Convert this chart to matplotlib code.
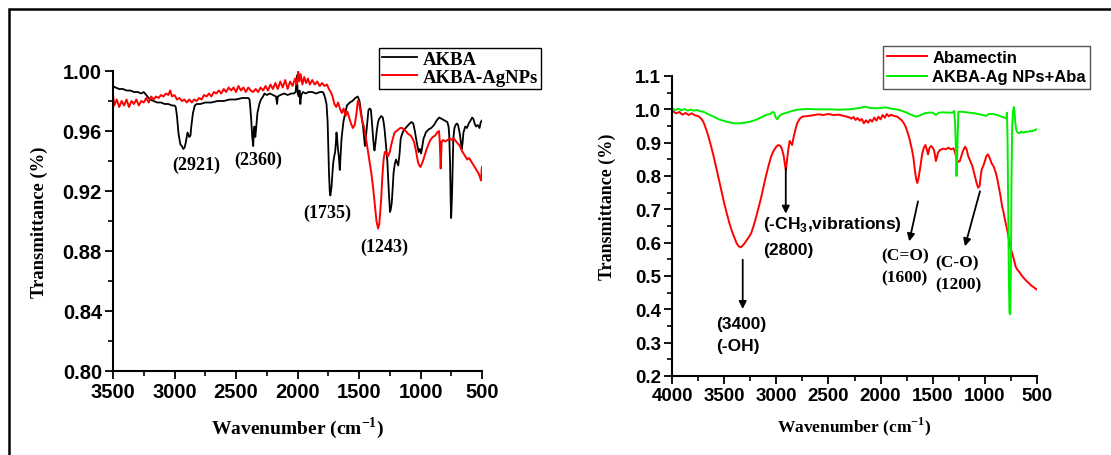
"""
FTIR spectra: AKBA / AKBA-AgNPs (left) and Abamectin / AKBA-Ag NPs+Aba (right)
"""

import matplotlib
matplotlib.use("Agg")
import matplotlib.pyplot as plt
import numpy as np
from matplotlib.lines import Line2D
from matplotlib.ticker import MultipleLocator, FormatStrFormatter

plt.rcParams['mathtext.fontset'] = 'custom'
plt.rcParams['mathtext.rm'] = 'Liberation Serif:bold'
plt.rcParams['mathtext.bf'] = 'Liberation Serif:bold'
plt.rcParams['mathtext.sf'] = 'Liberation Sans:bold'

SERIF = 'Liberation Serif'
SANS = 'Liberation Sans'

# ---- left panel data (wavenumber, transmittance) ----
akba = np.array([
    (3500, 0.990), (3480, 0.989), (3450, 0.988), (3420, 0.988), (3390, 0.987), (3360, 0.987),
    (3330, 0.986), (3300, 0.986), (3270, 0.985), (3250, 0.986), (3220, 0.983), (3200, 0.981),
    (3170, 0.980), (3140, 0.979), (3110, 0.979), (3080, 0.978), (3050, 0.978), (3020, 0.977),
    (3000, 0.977), (2990, 0.976), (2980, 0.970), (2967, 0.958), (2952, 0.951), (2940, 0.950),
    (2929, 0.948), (2918, 0.949), (2909, 0.952), (2894, 0.959), (2880, 0.956), (2870, 0.957),
    (2865, 0.962), (2850, 0.972), (2835, 0.977), (2820, 0.978), (2790, 0.978), (2750, 0.979),
    (2700, 0.979), (2650, 0.980), (2600, 0.980), (2550, 0.981), (2500, 0.981), (2450, 0.982),
    (2420, 0.982), (2399, 0.982), (2390, 0.981), (2384, 0.976), (2375, 0.966), (2368, 0.956),
    (2360, 0.950), (2355, 0.960), (2350, 0.963), (2343, 0.956), (2336, 0.962), (2326, 0.972),
    (2310, 0.978), (2297, 0.981), (2280, 0.983), (2268, 0.985), (2250, 0.984), (2224, 0.985),
    (2200, 0.984), (2175, 0.983), (2166, 0.978), (2160, 0.983), (2140, 0.984), (2108, 0.985),
    (2080, 0.984), (2050, 0.985), (2030, 0.985), (2015, 0.986), (2005, 0.997), (1998, 0.985),
    (1990, 0.983), (1983, 0.987), (1977, 0.978), (1970, 0.984), (1955, 0.986), (1933, 0.985),
    (1910, 0.986), (1880, 0.986), (1850, 0.985), (1816, 0.986), (1795, 0.986), (1787, 0.985),
    (1775, 0.982), (1764, 0.978), (1755, 0.966), (1750, 0.950), (1744, 0.932), (1738, 0.920),
    (1733, 0.917), (1728, 0.920), (1723, 0.923), (1716, 0.932), (1709, 0.939), (1702, 0.943),
    (1694, 0.946), (1688, 0.952), (1683, 0.959), (1677, 0.954), (1671, 0.948), (1663, 0.942),
    (1656, 0.934), (1649, 0.944), (1642, 0.955), (1634, 0.961), (1627, 0.966), (1612, 0.972),
    (1598, 0.977), (1575, 0.979), (1554, 0.980), (1530, 0.982), (1510, 0.983), (1496, 0.980),
    (1482, 0.972), (1467, 0.963), (1458, 0.955), (1452, 0.950), (1445, 0.955), (1438, 0.961),
    (1430, 0.968), (1423, 0.974), (1412, 0.975), (1403, 0.974), (1394, 0.965), (1385, 0.955),
    (1378, 0.949), (1374, 0.947), (1366, 0.952), (1356, 0.960), (1345, 0.966), (1336, 0.968),
    (1320, 0.970), (1307, 0.969), (1300, 0.966), (1292, 0.961), (1280, 0.950), (1269, 0.939),
    (1258, 0.920), (1248, 0.906), (1241, 0.908), (1234, 0.912), (1226, 0.922), (1219, 0.932),
    (1209, 0.938), (1199, 0.941), (1190, 0.939), (1181, 0.937), (1170, 0.945), (1161, 0.955),
    (1145, 0.959), (1132, 0.961), (1110, 0.963), (1088, 0.965), (1072, 0.966), (1059, 0.965),
    (1046, 0.960), (1036, 0.955), (1025, 0.950), (1015, 0.946), (1005, 0.948), (995, 0.945),
    (985, 0.950), (975, 0.955), (965, 0.957), (957, 0.959), (935, 0.961), (913, 0.962),
    (890, 0.964), (869, 0.967), (848, 0.969), (826, 0.968), (805, 0.967), (782, 0.966),
    (772, 0.963), (767, 0.958), (760, 0.940), (755, 0.915), (751, 0.902), (747, 0.910),
    (744, 0.917), (740, 0.930), (733, 0.955), (724, 0.962), (715, 0.964), (705, 0.965),
    (695, 0.964), (680, 0.958), (665, 0.948), (658, 0.952), (651, 0.959), (636, 0.963),
    (622, 0.962), (608, 0.965), (593, 0.967), (580, 0.969), (570, 0.968), (560, 0.965),
    (549, 0.963), (535, 0.964), (520, 0.962), (510, 0.966), (500, 0.967),
])

akba_ag = np.array([
    (3500, 0.984), (3490, 0.977), (3470, 0.981), (3450, 0.976), (3430, 0.980), (3410, 0.977),
    (3390, 0.981), (3370, 0.976), (3350, 0.980), (3330, 0.978), (3310, 0.981), (3290, 0.977),
    (3270, 0.980), (3250, 0.979), (3230, 0.982), (3210, 0.979), (3190, 0.983), (3170, 0.981),
    (3150, 0.983), (3130, 0.982), (3110, 0.984), (3090, 0.983), (3070, 0.985), (3050, 0.984),
    (3035, 0.987), (3020, 0.983), (3000, 0.984), (2980, 0.981), (2960, 0.982), (2940, 0.980),
    (2920, 0.981), (2900, 0.979), (2880, 0.981), (2860, 0.979), (2840, 0.981), (2820, 0.980),
    (2800, 0.982), (2780, 0.981), (2760, 0.984), (2740, 0.983), (2720, 0.985), (2700, 0.983),
    (2680, 0.986), (2660, 0.985), (2640, 0.987), (2620, 0.985), (2600, 0.988), (2580, 0.986),
    (2560, 0.989), (2540, 0.987), (2520, 0.989), (2500, 0.986), (2480, 0.990), (2460, 0.987),
    (2440, 0.989), (2420, 0.986), (2400, 0.989), (2380, 0.987), (2360, 0.986), (2340, 0.988),
    (2320, 0.986), (2300, 0.989), (2280, 0.987), (2260, 0.990), (2240, 0.987), (2220, 0.991),
    (2200, 0.988), (2180, 0.992), (2160, 0.988), (2140, 0.993), (2120, 0.989), (2100, 0.994),
    (2080, 0.988), (2060, 0.993), (2040, 0.990), (2020, 0.995), (2005, 0.991), (1995, 1.000),
    (1985, 0.993), (1975, 0.998), (1960, 0.991), (1945, 0.996), (1930, 0.992), (1915, 0.995),
    (1900, 0.991), (1880, 0.994), (1860, 0.991), (1840, 0.993), (1820, 0.990), (1800, 0.992),
    (1780, 0.990), (1760, 0.991), (1745, 0.988), (1730, 0.986), (1715, 0.983), (1700, 0.978),
    (1685, 0.976), (1670, 0.979), (1655, 0.975), (1640, 0.972), (1625, 0.975), (1610, 0.970),
    (1595, 0.973), (1580, 0.969), (1565, 0.965), (1550, 0.962), (1535, 0.964), (1520, 0.972),
    (1510, 0.980), (1500, 0.979), (1490, 0.974), (1475, 0.967), (1460, 0.963), (1445, 0.956),
    (1430, 0.948), (1415, 0.940), (1400, 0.932), (1385, 0.922), (1370, 0.910), (1358, 0.900),
    (1345, 0.895), (1335, 0.898), (1320, 0.914), (1310, 0.930), (1300, 0.941), (1290, 0.946),
    (1280, 0.946), (1265, 0.943), (1250, 0.946), (1240, 0.950), (1225, 0.955), (1210, 0.959),
    (1195, 0.960), (1180, 0.961), (1165, 0.962), (1150, 0.962), (1135, 0.961), (1120, 0.960),
    (1100, 0.958), (1080, 0.957), (1065, 0.955), (1050, 0.952), (1035, 0.946), (1020, 0.939),
    (1010, 0.937), (1000, 0.936), (990, 0.938), (980, 0.940), (965, 0.944), (950, 0.948),
    (935, 0.951), (920, 0.954), (900, 0.956), (880, 0.957), (865, 0.959), (850, 0.960),
    (845, 0.955), (840, 0.945), (836, 0.935), (832, 0.945), (828, 0.953), (815, 0.954),
    (800, 0.953), (780, 0.954), (760, 0.955), (745, 0.954), (730, 0.955), (720, 0.954),
    (700, 0.952), (680, 0.950), (665, 0.947), (650, 0.945), (635, 0.943), (620, 0.941),
    (605, 0.942), (590, 0.940), (575, 0.938), (560, 0.936), (545, 0.934), (530, 0.932),
    (520, 0.930), (512, 0.928), (507, 0.927), (503, 0.934), (500, 0.936),
])

# ---- right panel data ----
abamectin = np.array([
    (4000, 0.996), (3960, 0.988), (3930, 0.992), (3900, 0.984), (3870, 0.989), (3840, 0.983),
    (3810, 0.988), (3780, 0.982), (3750, 0.980), (3720, 0.972), (3700, 0.963), (3675, 0.942),
    (3650, 0.918), (3625, 0.889), (3600, 0.858), (3575, 0.824), (3550, 0.789), (3525, 0.754),
    (3500, 0.719), (3475, 0.688), (3450, 0.659), (3425, 0.634), (3400, 0.614), (3380, 0.598),
    (3360, 0.589), (3340, 0.586), (3320, 0.592), (3300, 0.600), (3280, 0.609), (3260, 0.618),
    (3240, 0.629), (3220, 0.648), (3200, 0.669), (3175, 0.699), (3150, 0.729), (3125, 0.764),
    (3100, 0.799), (3075, 0.830), (3050, 0.858), (3025, 0.876), (3000, 0.888), (2980, 0.893),
    (2960, 0.890), (2945, 0.880), (2930, 0.862), (2915, 0.830), (2908, 0.818), (2898, 0.845),
    (2885, 0.880), (2872, 0.905), (2860, 0.900), (2848, 0.893), (2835, 0.915), (2820, 0.935),
    (2800, 0.958), (2775, 0.972), (2750, 0.978), (2700, 0.980), (2650, 0.982), (2600, 0.985),
    (2550, 0.983), (2500, 0.986), (2450, 0.983), (2400, 0.984), (2350, 0.980), (2300, 0.976),
    (2280, 0.972), (2260, 0.977), (2240, 0.968), (2220, 0.974), (2200, 0.966), (2180, 0.971),
    (2160, 0.958), (2140, 0.967), (2120, 0.960), (2100, 0.969), (2080, 0.963), (2060, 0.975),
    (2040, 0.966), (2020, 0.978), (2000, 0.970), (1980, 0.983), (1960, 0.975), (1940, 0.986),
    (1920, 0.979), (1900, 0.984), (1870, 0.980), (1840, 0.978), (1800, 0.968), (1780, 0.960),
    (1760, 0.948), (1740, 0.930), (1720, 0.908), (1700, 0.880), (1685, 0.855), (1670, 0.815),
    (1658, 0.790), (1648, 0.779), (1638, 0.790), (1625, 0.815), (1610, 0.848), (1600, 0.868),
    (1585, 0.885), (1570, 0.893), (1555, 0.878), (1545, 0.865), (1530, 0.885), (1515, 0.890),
    (1500, 0.885), (1485, 0.875), (1470, 0.845), (1460, 0.855), (1450, 0.870), (1430, 0.878),
    (1400, 0.882), (1375, 0.880), (1350, 0.885), (1325, 0.880), (1300, 0.883), (1285, 0.870),
    (1270, 0.850), (1255, 0.842), (1240, 0.845), (1225, 0.860), (1210, 0.875), (1190, 0.888),
    (1175, 0.880), (1160, 0.860), (1140, 0.845), (1120, 0.830), (1100, 0.805), (1080, 0.780),
    (1065, 0.765), (1050, 0.770), (1040, 0.800), (1030, 0.820), (1015, 0.830), (1000, 0.845),
    (985, 0.860), (970, 0.865), (955, 0.855), (935, 0.838), (915, 0.828), (895, 0.810),
    (880, 0.790), (865, 0.765), (850, 0.740), (835, 0.710), (820, 0.690), (805, 0.665),
    (790, 0.645), (775, 0.620), (765, 0.600), (755, 0.585), (745, 0.575), (735, 0.565),
    (720, 0.548), (705, 0.528), (690, 0.520), (670, 0.512), (650, 0.503), (630, 0.495),
    (610, 0.488), (590, 0.482), (570, 0.476), (550, 0.470), (530, 0.466), (515, 0.462),
    (500, 0.459),
])

akba_ag_aba = np.array([
    (4000, 1.003), (3970, 0.998), (3940, 1.002), (3910, 0.997), (3880, 1.001), (3850, 0.996),
    (3820, 0.999), (3790, 0.996), (3760, 0.998), (3730, 0.994), (3700, 0.993), (3650, 0.985),
    (3600, 0.978), (3550, 0.970), (3500, 0.965), (3450, 0.961), (3400, 0.958), (3350, 0.958),
    (3300, 0.960), (3250, 0.963), (3200, 0.968), (3150, 0.975), (3100, 0.983), (3060, 0.986),
    (3035, 0.992), (3020, 0.990), (3005, 0.975), (2990, 0.970), (2975, 0.978), (2950, 0.985),
    (2900, 0.990), (2850, 0.995), (2800, 0.999), (2750, 1.000), (2700, 1.001), (2600, 1.000),
    (2500, 1.000), (2400, 0.999), (2300, 1.000), (2250, 1.002), (2200, 1.004), (2150, 1.008),
    (2100, 1.004), (2050, 1.003), (2000, 1.004), (1950, 1.006), (1900, 1.002), (1850, 1.000),
    (1800, 0.996), (1750, 0.990), (1700, 0.983), (1660, 0.978), (1620, 0.982), (1580, 0.988),
    (1540, 0.990), (1500, 0.990), (1470, 0.983), (1440, 0.990), (1400, 0.991), (1350, 0.990),
    (1310, 0.990), (1295, 0.995), (1285, 0.960), (1278, 0.880), (1272, 0.800), (1266, 0.850),
    (1260, 0.930), (1254, 0.992), (1240, 0.993), (1200, 0.992), (1150, 0.990), (1100, 0.988),
    (1050, 0.985), (1020, 0.983), (990, 0.980), (960, 0.986), (920, 0.986), (880, 0.983),
    (840, 0.978), (810, 0.975), (795, 0.972), (788, 0.990), (782, 0.900), (776, 0.700),
    (770, 0.500), (764, 0.390), (756, 0.385), (750, 0.550), (744, 0.800), (738, 0.950),
    (730, 0.995), (722, 1.007), (715, 0.990), (708, 0.960), (700, 0.940), (690, 0.932),
    (670, 0.928), (650, 0.933), (630, 0.930), (610, 0.933), (590, 0.932), (570, 0.935),
    (550, 0.934), (530, 0.937), (515, 0.938), (500, 0.941),
])

W, H = 1111, 456
fig = plt.figure(figsize=(W / 100, H / 100), dpi=100)


def px_axes(x0, x1, y0, y1):
    # pixel box (top-left origin) -> figure axes
    return fig.add_axes([x0 / W, 1 - y1 / H, (x1 - x0) / W, (y1 - y0) / H])


def style_axes(ax, fs):
    for s in ['top', 'right']:
        ax.spines[s].set_visible(False)
    for s in ['left', 'bottom']:
        ax.spines[s].set_linewidth(1.5)
    ax.tick_params(which='major', direction='out', length=6, width=1.3, labelsize=fs, pad=2)
    ax.tick_params(which='minor', direction='out', length=3.5, width=1.2)
    for lab in ax.get_xticklabels() + ax.get_yticklabels():
        lab.set_fontfamily(SANS)
        lab.set_fontweight('bold')


# ---- left panel ----
ax1 = px_axes(113, 482, 72, 372)
ax1.plot(akba[:, 0], akba[:, 1], color='black', lw=1.3, label='AKBA')
ax1.plot(akba_ag[:, 0], akba_ag[:, 1], color='#ff0000', lw=1.4, label='AKBA-AgNPs')
ax1.set_xlim(3500, 500)
ax1.set_ylim(0.80, 1.00)
ax1.xaxis.set_major_locator(MultipleLocator(500))
ax1.xaxis.set_minor_locator(MultipleLocator(250))
ax1.yaxis.set_major_locator(MultipleLocator(0.04))
ax1.yaxis.set_minor_locator(MultipleLocator(0.02))
ax1.yaxis.set_major_formatter(FormatStrFormatter('%.2f'))
style_axes(ax1, 14.5)

peaks_left = [('(2921)', 2821, 0.938), ('(2360)', 2317, 0.941),
              ('(1735)', 1758, 0.906), ('(1243)', 1292, 0.883)]
for txt, x, y in peaks_left:
    ax1.text(x, y, txt, ha='center', va='center', fontsize=13,
             fontfamily=SERIF, fontweight='bold')

leg1 = ax1.legend(loc='upper left', bbox_to_anchor=(379 / W, 1 - 49 / H),
                  bbox_transform=fig.transFigure, borderaxespad=0,
                  prop={'family': SERIF, 'weight': 'bold', 'size': 13.5},
                  handlelength=1.9, handletextpad=0.3, borderpad=0.15,
                  labelspacing=0.05, fancybox=False, framealpha=1)
leg1.get_frame().set_edgecolor('black')
leg1.get_frame().set_linewidth(1.0)

# ---- right panel ----
ax2 = px_axes(672, 1037, 77, 377)
ax2.plot(abamectin[:, 0], abamectin[:, 1], color='#ff0000', lw=1.4, label='Abamectin')
ax2.plot(akba_ag_aba[:, 0], akba_ag_aba[:, 1], color='#00ee00', lw=1.4, label='AKBA-Ag NPs+Aba')
ax2.set_xlim(4000, 500)
ax2.set_ylim(0.2, 1.1)
ax2.xaxis.set_major_locator(MultipleLocator(500))
ax2.xaxis.set_minor_locator(MultipleLocator(250))
ax2.yaxis.set_major_locator(MultipleLocator(0.1))
ax2.yaxis.set_minor_locator(MultipleLocator(0.05))
ax2.yaxis.set_major_formatter(FormatStrFormatter('%.1f'))
style_axes(ax2, 13.5)

arrows = [((3322, 0.549), (3322, 0.401)), ((2909, 0.824), (2909, 0.687)),
          ((1641, 0.724), (1725, 0.604)), ((1047, 0.754), (1191, 0.589))]
for tail, head in arrows:
    ax2.annotate('', xy=head, xytext=tail,
                 arrowprops=dict(arrowstyle='-|>', color='black', lw=1.3,
                                 mutation_scale=11, shrinkA=0, shrinkB=0))

ax2.text(3128, 0.656, r'(-CH$_\mathsf{3}$,vibrations)', ha='left', va='center',
         fontsize=12.5, fontfamily=SANS, fontweight='bold')
ax2.text(3128, 0.581, '(2800)', ha='left', va='center',
         fontsize=12.5, fontfamily=SANS, fontweight='bold')
ax2.text(3581, 0.356, '(3400)', ha='left', va='center',
         fontsize=12.5, fontfamily=SANS, fontweight='bold')
ax2.text(3581, 0.292, '(-OH)', ha='left', va='center',
         fontsize=12.5, fontfamily=SANS, fontweight='bold')
ax2.text(1997, 0.561, '(C=O)', ha='left', va='center',
         fontsize=12.5, fontfamily=SERIF, fontweight='bold')
ax2.text(1997, 0.497, '(1600)', ha='left', va='center',
         fontsize=12.5, fontfamily=SERIF, fontweight='bold')
ax2.text(1473, 0.541, '(C-O)', ha='left', va='center',
         fontsize=12.5, fontfamily=SERIF, fontweight='bold')
ax2.text(1473, 0.476, '(1200)', ha='left', va='center',
         fontsize=12.5, fontfamily=SERIF, fontweight='bold')

leg2 = ax2.legend(loc='upper left', bbox_to_anchor=(883 / W, 1 - 47 / H),
                  bbox_transform=fig.transFigure, borderaxespad=0,
                  prop={'family': SANS, 'weight': 'bold', 'size': 12},
                  handlelength=2.4, handletextpad=0.3, borderpad=0.25,
                  labelspacing=0.25, fancybox=False, framealpha=1)
leg2.get_frame().set_edgecolor('#555555')
leg2.get_frame().set_linewidth(1.0)

# ---- axis titles ----
fig.text(298 / W, 1 - 428 / H, r'Wavenumber (cm$^{\mathbf{-1}}$)', ha='center', va='center',
         fontsize=14, fontfamily=SERIF, fontweight='bold')
fig.text(39 / W, 1 - 222 / H, 'Transmittance (%)', ha='center', va='center', rotation=90,
         fontsize=13.4, fontfamily=SERIF, fontweight='bold')
fig.text(854 / W, 1 - 427 / H, r'Wavenumber (cm$^{\mathbf{-1}}$)', ha='center', va='center',
         fontsize=12.5, fontfamily=SERIF, fontweight='bold')
fig.text(607 / W, 1 - 207 / H, 'Transmittance (%)', ha='center', va='center', rotation=90,
         fontsize=13, fontfamily=SERIF, fontweight='bold')

# ---- outer frame (top and left edges) ----
fig.add_artist(Line2D([9 / W, 9 / W, 1.0], [0.0, 1 - 10 / H, 1 - 10 / H],
                      transform=fig.transFigure, color='black', lw=1.8,
                      solid_joinstyle='miter'))

fig.savefig('out.png', dpi=100)
